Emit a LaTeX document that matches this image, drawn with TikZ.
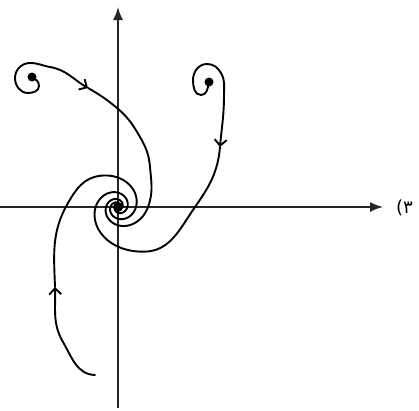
\documentclass[tikz,border=0pt]{standalone}
\usepackage{fontspec}
\newfontfamily\arabicfont[Script=Arabic]{DejaVu Sans}
\usetikzlibrary{arrows.meta}
\begin{document}
\begin{tikzpicture}[x=1pt,y=1pt,
  traj/.style={line width=1.9pt, line cap=round, line join=round},
  axis/.style={line width=1.7pt, draw=black!85, -{Latex[length=13pt,width=10pt]}},
  barb/.style={-{Straight Barb[length=6pt,width=12pt]}},
  dot/.style={circle, fill=black, inner sep=0pt, minimum size=#1},
  dot/.default=9pt]
\useasboundingbox (-118,-203) rectangle (301,207);
% axes
\coordinate (xs) at (-118,0);
\coordinate (xe) at (265,0);
\coordinate (ys) at (0,-201);
\coordinate (ye) at (0,200);
\draw[axis] (xs) -- (xe);
\draw[axis] (ys) -- (ye);
% label
\node[anchor=west, inner sep=0pt, font=\arabicfont\fontsize{18}{18}\selectfont] (lbl) at (278,-1) {۳)};
% trajectory 1 (upper left)
\draw[traj] (-86,130) to[out=-30,in=90] (-79,121) to[out=-90,in=0] (-90,114)
  to[out=180,in=-90] (-103,129) to[out=90,in=180] (-88,144) to[out=0,in=170] (-68,140);
\draw[traj,barb] (-68,140) to[out=-10,in=150] (-30,119);
\draw[traj] (-30,119) to[out=-30,in=140] (-1,99) to[out=-40,in=120] (22,70)
  to[out=-60,in=95] (32,40) to[out=-85,in=69.8] (30,0)
  -- plot[domain=0:495, samples=300, variable=\t]
  ({12.91*tan(66.71-0.13314*\t)*cos(0-\t)}, {12.91*tan(66.71-0.13314*\t)*sin(0-\t)});
% trajectory 2 (upper right)
\draw[traj] (91,125) to[out=-100,in=0] (83,112) to[out=180,in=-90] (75,127)
  to[out=90,in=180] (89,143) to[out=0,in=120] (103,134) to[out=-60,in=90] (106,112);
\draw[traj,barb] (106,112) to[out=-90,in=85] (102,60);
\draw[traj] (102,60) to[out=-95,in=55] (77,0) to[out=-125,in=0.5] (25.8,-44.7)
  -- plot[domain=0:565, samples=330, variable=\t]
  ({12.91*tan(75.95-0.13314*\t)*cos(-60-\t)}, {12.91*tan(75.95-0.13314*\t)*sin(-60-\t)});
% trajectory 3 (lower left)
\draw[traj,barb] (-23,-168) to[out=178,in=-60] (-55,-135) to[out=120,in=-88] (-63,-80);
\draw[traj] (-63,-80) to[out=92,in=-120] (-50,4) to[out=60,in=-172.7] (-18,31.2)
  -- plot[domain=0:522, samples=310, variable=\t]
  ({12.91*tan(70.28-0.13314*\t)*cos(120-\t)}, {12.91*tan(70.28-0.13314*\t)*sin(120-\t)});
% points
\node[dot] (p1) at (-86,130) {};
\node[dot] (p2) at (91,125) {};
\node[dot=10pt] (o) at (0,0) {};
\end{tikzpicture}
\end{document}
